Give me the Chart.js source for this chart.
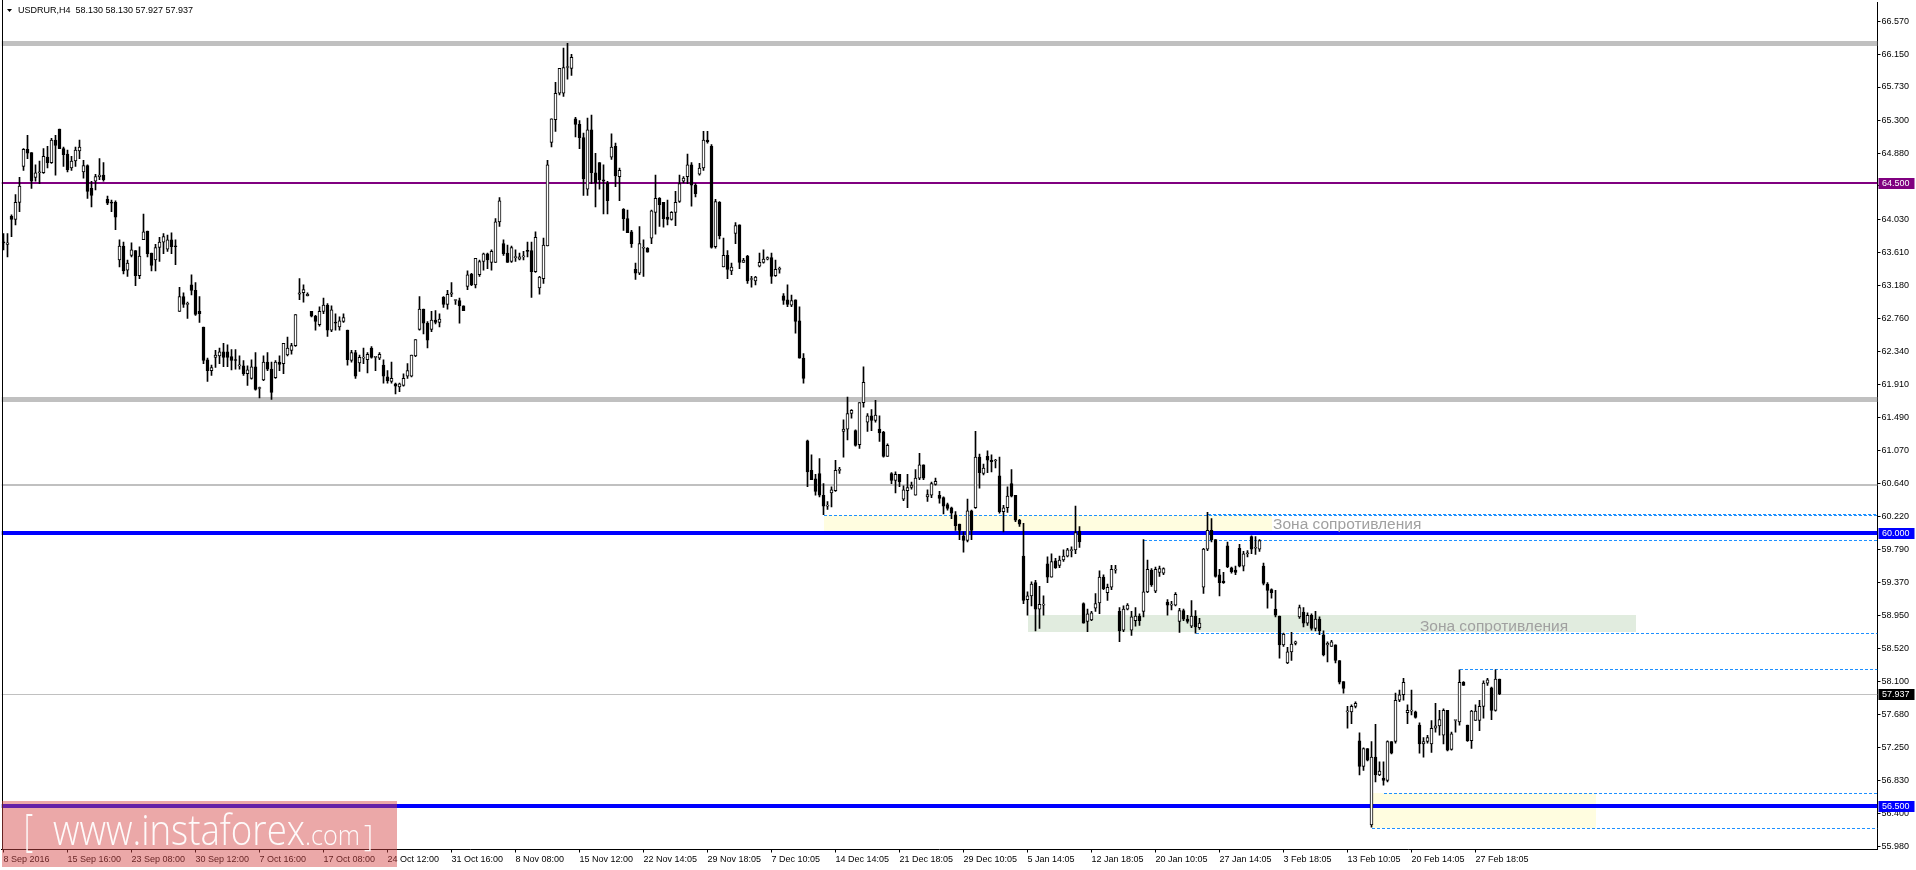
<!DOCTYPE html>
<html><head><meta charset="utf-8">
<script src="https://cdn.jsdelivr.net/npm/chart.js@4.4.1/dist/chart.umd.min.js"></script>
<style>html,body{margin:0;padding:0;background:#fff;overflow:hidden}</style>
</head><body>
<canvas id="c" width="1916" height="870"></canvas>
<script>
// ---------- data ----------
const symbolTitle = 'USDRUR,H4  58.130 58.130 57.927 57.937';
const timeLabels = ['8 Sep 2016','15 Sep 16:00','23 Sep 08:00','30 Sep 12:00','7 Oct 16:00','17 Oct 08:00','24 Oct 12:00','31 Oct 16:00','8 Nov 08:00','15 Nov 12:00','22 Nov 14:05','29 Nov 18:05','7 Dec 10:05','14 Dec 14:05','21 Dec 18:05','29 Dec 10:05','5 Jan 14:05','12 Jan 18:05','20 Jan 10:05','27 Jan 14:05','3 Feb 18:05','13 Feb 10:05','20 Feb 14:05','27 Feb 18:05'];
const barsPerLabel = 16;
const slotCount = 469;
const priceTicks = [66.570,66.150,65.730,65.300,64.880,64.460,64.030,63.610,63.180,62.760,62.340,61.910,61.490,61.070,60.640,60.220,59.790,59.370,58.950,58.520,58.100,57.680,57.250,56.830,56.400,55.980];
const priceMin = 55.944, priceMax = 66.821;

const opens = [63.74,63.71,64.07,64.03,64.25,64.71,64.93,64.89,64.57,64.63,
64.63,64.83,64.76,65.05,65.19,64.94,64.87,64.69,64.78,64.91,
64.64,64.72,64.43,64.52,64.58,64.60,64.29,64.25,64.25,63.51,
63.69,63.38,63.57,63.63,63.31,63.77,63.88,63.60,63.51,63.67,
63.74,63.65,63.77,63.69,62.85,63.04,62.94,63.19,63.12,62.85,
62.65,62.23,62.09,62.26,62.28,62.33,62.33,62.27,62.23,62.15,
62.15,62.05,61.99,62.14,61.86,61.97,62.20,62.11,62.00,62.20,
62.18,62.29,62.35,62.41,63.07,63.09,63.05,62.85,62.79,62.68,
62.85,62.93,62.61,62.71,62.65,62.72,62.61,62.22,62.32,62.19,
62.25,62.23,62.38,62.26,62.25,62.16,62.01,61.95,61.92,61.88,
61.90,62.02,62.02,62.28,62.62,62.88,62.70,62.62,62.74,62.71,
63.03,62.94,63.07,62.99,62.99,62.92,63.17,63.33,63.19,63.32,
63.49,63.59,63.48,63.48,64.00,63.72,63.60,63.49,63.54,63.52,
63.55,63.63,63.63,63.36,63.15,63.27,63.69,65.02,65.31,65.65,
65.65,65.98,65.97,65.32,65.25,65.08,64.42,65.18,64.63,64.76,
64.54,64.50,64.83,64.97,64.58,64.16,64.04,63.87,63.39,63.34,
63.66,63.66,63.79,64.12,64.30,64.25,64.06,64.03,64.12,64.26,
64.52,64.58,64.73,64.47,64.61,64.69,65.05,64.97,63.68,64.25,
63.42,63.57,63.37,63.85,63.96,63.48,63.56,63.26,63.24,63.43,
63.48,63.52,63.54,63.31,63.39,63.05,63.00,62.93,63.00,62.73,
62.25,61.19,60.81,60.70,60.77,60.49,60.35,60.52,60.55,60.81,
61.31,61.34,61.54,61.32,61.14,61.68,61.43,61.51,61.45,61.34,
61.30,60.99,60.77,60.68,60.76,60.44,60.55,60.59,60.49,60.71,
60.88,60.47,60.49,60.63,60.49,60.46,60.37,60.33,60.24,60.12,
59.97,59.91,60.29,60.33,60.98,60.77,60.99,60.94,60.93,60.74,
60.28,60.33,60.64,60.49,60.17,59.71,59.15,59.20,59.37,59.03,
59.08,59.61,59.44,59.65,59.59,59.66,59.71,59.78,59.79,60.03,
59.10,58.87,58.89,59.04,59.11,59.44,59.24,59.31,59.53,59.00,
58.76,59.03,58.76,58.88,58.94,59.00,59.25,59.53,59.26,59.50,
59.49,59.12,59.08,59.08,58.87,59.01,58.90,58.81,58.94,58.79,
59.31,59.80,60.04,59.92,59.47,59.39,59.84,59.56,59.53,59.81,
59.58,59.74,59.96,59.81,59.80,59.58,59.35,59.28,59.03,58.94,
58.57,58.34,58.48,58.59,58.93,58.99,58.85,58.95,58.78,58.90,
58.70,58.57,58.55,58.57,58.37,58.10,57.71,57.71,57.78,57.34,
57.01,57.24,56.26,57.13,56.90,56.86,56.83,57.33,57.33,57.86,
57.93,57.70,57.72,57.71,57.54,57.30,57.33,57.30,57.50,57.53,
57.41,57.73,57.23,57.60,57.58,58.09,57.54,57.34,57.60,57.60,
57.78,58.08,58.02,57.73,58.13];

const highs = [63.85,63.85,64.09,64.35,64.57,64.94,65.11,64.89,64.73,64.78,
64.94,64.97,65.07,65.11,65.19,64.96,64.92,64.84,64.96,65.05,
64.79,64.73,64.52,64.61,64.81,64.76,64.33,64.28,64.27,63.77,
63.74,63.51,63.73,63.63,63.68,64.10,63.88,63.60,63.71,63.80,
63.85,63.83,63.86,63.77,63.16,63.09,62.97,63.32,63.22,63.04,
62.65,62.25,62.16,62.35,62.38,62.44,62.42,62.36,62.36,62.28,
62.22,62.15,62.23,62.32,61.88,62.28,62.32,62.20,62.22,62.28,
62.44,62.52,62.44,62.81,63.27,63.19,63.09,62.85,62.80,62.91,
63.02,62.95,62.92,62.82,62.78,62.82,62.61,62.35,62.35,62.29,
62.38,62.32,62.40,62.27,62.32,62.23,62.09,62.20,61.93,61.93,
62.05,62.18,62.29,62.49,63.04,62.88,62.72,62.85,62.86,62.82,
63.04,63.12,63.22,63.00,63.02,62.92,63.37,63.34,63.53,63.51,
63.60,63.60,63.64,64.04,64.31,63.77,63.70,63.69,63.64,63.60,
63.62,63.74,63.74,63.87,63.30,63.79,64.79,65.32,65.79,65.97,
66.23,66.29,66.15,65.34,65.30,65.14,65.33,65.37,64.88,64.76,
64.73,64.52,65.13,65.01,64.69,64.17,64.15,63.89,63.47,63.94,
63.77,63.67,64.15,64.60,64.31,64.25,64.28,64.13,64.39,64.60,
64.58,64.87,64.76,64.49,64.75,65.16,65.16,64.99,64.29,64.26,
63.79,63.63,63.47,63.99,63.96,63.53,63.57,63.30,63.30,63.60,
63.64,63.55,63.60,63.51,63.42,63.08,63.19,63.06,63.00,62.91,
62.31,61.20,61.01,60.76,60.96,60.64,60.41,60.60,60.94,60.85,
61.46,61.75,61.59,61.33,61.68,62.14,61.54,61.59,61.71,61.51,
61.31,61.15,60.78,60.79,60.76,60.61,60.76,60.66,60.82,61.03,
60.88,60.56,60.66,60.71,60.54,60.47,60.39,60.34,60.28,60.12,
60.02,60.44,60.30,61.31,61.02,60.89,61.06,61.01,60.95,60.98,
60.36,60.60,60.82,60.49,60.18,60.13,59.25,59.38,59.40,59.32,
59.20,59.70,59.74,59.68,59.71,59.79,59.81,59.83,60.35,60.09,
59.11,59.03,59.00,59.23,59.52,59.47,59.35,59.59,59.59,59.05,
59.07,59.10,59.00,59.05,58.97,59.92,59.66,59.55,59.57,59.58,
59.56,59.15,59.13,59.24,59.04,59.03,58.95,59.14,59.01,58.91,
59.81,60.27,60.19,59.92,59.54,59.50,59.89,59.57,59.58,59.86,
59.77,59.78,59.97,59.96,59.92,59.62,59.37,59.29,59.27,58.94,
58.72,58.54,58.73,58.62,59.08,59.05,58.98,58.97,59.00,58.93,
58.75,58.61,58.63,58.57,58.37,58.10,57.78,57.80,57.84,57.44,
57.25,57.24,57.33,57.55,57.07,57.07,57.34,57.33,57.95,57.99,
58.14,57.80,57.99,57.72,57.57,57.38,57.41,57.60,57.82,57.73,
57.75,57.73,57.45,57.60,58.25,58.10,57.54,57.73,57.80,57.86,
58.11,58.14,58.03,58.25,58.13];

const lows = [63.64,63.55,63.81,63.96,64.13,64.66,64.81,64.43,64.52,64.49,
64.62,64.69,64.75,64.60,64.94,64.71,64.64,64.66,64.71,64.81,
64.56,64.30,64.19,64.41,64.54,64.52,64.22,64.13,63.90,63.42,
63.33,63.30,63.55,63.18,63.27,63.77,63.55,63.37,63.37,63.49,
63.59,63.62,63.59,63.45,62.85,62.90,62.76,63.06,62.80,62.71,
62.18,61.95,62.03,62.13,62.18,62.14,62.14,62.10,62.11,62.11,
62.03,61.90,61.98,61.84,61.74,61.96,62.09,61.72,61.99,62.09,
62.05,62.28,62.30,62.40,63.00,62.97,63.05,62.78,62.61,62.66,
62.82,62.53,62.59,62.61,62.61,62.71,62.16,62.20,61.99,62.08,
62.18,62.06,62.25,62.09,62.23,61.93,61.93,61.93,61.79,61.82,
61.89,61.99,62.01,62.27,62.61,62.56,62.38,62.59,62.69,62.65,
62.90,62.88,63.04,62.94,62.70,62.86,63.13,63.18,63.15,63.30,
63.38,63.40,63.38,63.48,63.94,63.57,63.48,63.48,63.49,63.51,
63.51,63.55,63.03,63.35,63.07,63.21,63.69,64.96,65.16,65.63,
65.61,65.83,65.88,65.09,64.94,64.34,64.34,64.49,64.19,64.42,
64.10,64.10,64.80,64.45,64.27,63.89,63.86,63.67,63.26,63.32,
63.30,63.61,63.72,63.84,63.94,63.93,63.96,64.02,63.95,64.25,
64.50,64.49,64.20,64.32,64.60,64.66,65.01,63.66,63.66,63.78,
63.42,63.27,63.32,63.72,63.40,63.48,63.21,63.16,63.19,63.42,
63.47,63.51,63.21,63.30,63.34,62.94,62.91,62.91,62.57,62.25,
61.93,60.60,60.69,60.49,60.47,60.24,60.31,60.34,60.54,60.77,
60.98,61.20,61.48,61.12,61.09,61.62,61.31,61.32,61.43,61.18,
60.98,60.99,60.64,60.52,60.60,60.42,60.33,60.57,60.49,60.69,
60.69,60.41,60.46,60.62,60.39,60.25,60.30,60.19,60.04,59.92,
59.76,59.89,59.92,60.32,60.58,60.75,60.78,60.79,60.84,60.26,
60.02,60.27,60.47,60.15,60.09,59.10,58.95,59.07,58.75,58.78,
58.95,59.37,59.44,59.55,59.56,59.64,59.70,59.70,59.74,59.82,
58.85,58.74,58.88,59.00,58.97,59.28,59.14,59.28,59.49,58.61,
58.74,59.02,58.69,58.81,58.82,58.93,59.24,59.32,59.24,59.45,
59.47,58.95,59.02,59.07,58.73,58.88,58.85,58.79,58.72,58.77,
59.23,59.78,59.89,59.44,59.20,59.36,59.56,59.49,59.47,59.57,
59.52,59.70,59.74,59.73,59.77,59.34,59.04,59.17,58.93,58.40,
58.55,58.33,58.37,58.57,58.91,58.80,58.82,58.76,58.75,58.70,
58.43,58.35,58.55,58.34,58.07,57.95,57.50,57.56,57.76,56.90,
56.96,57.08,56.23,56.81,56.89,56.77,56.81,57.17,57.31,57.84,
57.86,57.56,57.67,57.63,57.18,57.13,57.31,57.19,57.45,57.41,
57.30,57.21,57.22,57.45,57.54,58.05,57.33,57.24,57.60,57.47,
57.63,58.05,57.61,57.72,57.93];

const closes = [63.73,63.73,64.03,64.25,64.46,64.93,64.88,64.52,64.63,64.64,
64.84,64.76,65.05,64.98,64.94,64.86,64.67,64.78,64.92,64.96,
64.72,64.39,64.34,64.58,64.60,64.54,64.24,64.24,64.06,63.69,
63.37,63.47,63.64,63.31,63.56,63.87,63.59,63.44,63.67,63.74,
63.81,63.77,63.68,63.68,63.04,62.94,62.94,63.12,62.81,62.82,
62.22,62.09,62.13,62.29,62.33,62.26,62.26,62.22,62.22,62.15,
62.05,62.10,62.14,61.85,61.86,62.20,62.11,61.81,62.20,62.17,
62.44,62.38,62.41,62.81,63.09,63.13,63.07,62.79,62.72,62.85,
62.93,62.61,62.87,62.70,62.73,62.77,62.23,62.32,62.02,62.26,
62.25,62.30,62.26,62.26,62.30,62.02,61.96,61.99,61.89,61.92,
61.99,62.09,62.29,62.49,62.88,62.70,62.48,62.74,62.71,62.75,
62.94,63.07,63.09,62.99,62.92,62.86,63.32,63.19,63.53,63.49,
63.59,63.51,63.62,64.00,64.27,63.59,63.48,63.67,63.54,63.55,
63.55,63.62,63.36,63.80,63.29,63.70,64.73,65.32,65.65,65.97,
65.98,65.98,66.11,65.25,65.08,64.55,65.18,64.63,64.50,64.54,
64.52,64.27,64.96,64.59,64.66,64.04,63.86,63.72,63.34,63.72,
63.66,63.61,64.14,64.30,64.22,64.04,64.03,64.12,64.25,64.49,
64.56,64.73,64.47,64.36,64.69,65.05,65.03,63.67,64.26,63.82,
63.57,63.39,63.42,63.95,63.48,63.51,63.24,63.26,63.29,63.48,
63.52,63.54,63.30,63.39,63.39,62.99,62.94,62.99,62.72,62.25,
61.99,60.79,60.69,60.54,60.49,60.35,60.35,60.56,60.81,60.81,
61.34,61.54,61.58,61.13,61.68,61.94,61.51,61.45,61.52,61.29,
60.99,61.13,60.68,60.76,60.66,60.56,60.59,60.62,60.71,60.88,
60.71,60.50,60.64,60.67,60.45,60.35,60.32,60.26,60.10,60.04,
59.91,60.29,60.04,60.98,60.78,60.84,60.94,60.92,60.93,60.28,
60.33,60.48,60.48,60.17,60.12,59.14,59.20,59.35,59.03,59.09,
59.08,59.44,59.64,59.56,59.66,59.71,59.79,59.78,60.01,59.89,
58.85,58.97,58.98,59.10,59.44,59.29,59.31,59.54,59.53,58.75,
59.03,59.08,58.93,58.94,58.88,59.25,59.54,59.34,59.54,59.55,
59.55,59.08,59.08,59.22,59.01,58.90,58.87,58.94,58.80,58.85,
59.80,60.04,59.92,59.45,59.37,59.37,59.57,59.51,59.50,59.58,
59.74,59.74,59.80,59.81,59.91,59.36,59.27,59.24,58.95,58.57,
58.71,58.48,58.58,58.61,59.05,58.85,58.95,58.78,58.90,58.75,
58.44,58.59,58.61,58.37,58.09,58.01,57.71,57.78,57.82,57.01,
57.24,57.09,57.13,56.90,56.95,56.83,57.33,57.18,57.86,57.93,
58.09,57.73,57.72,57.64,57.30,57.33,57.38,57.50,57.53,57.61,
57.73,57.22,57.43,57.60,58.09,58.05,57.34,57.72,57.72,57.78,
58.08,58.12,57.73,58.13,57.94];

// horizontal levels (prices)
const greyLevelsThick = [66.292, 61.716];
const greyLevelThin = 60.621;
const purpleLevel = 64.500;
const blueLevels = [60.000, 56.500];
const bidPrice = 57.937;
// dashed lines: price and first bar
const dashedPrices = [60.236, 60.250, 59.918, 58.717, 58.255, 56.670, 56.214];
const dashedFromBar = [205, 301, 285, 298, 364, 345, 342];
// zones: top price, bottom price, first bar, last bar
const zoneTop = [60.236, 58.950, 56.670];
const zoneBottom = [59.995, 58.735, 56.214];
const zoneFrom = [205, 256, 342];
const zoneTo = [317, 408, 398];
const zoneText = 'Зона сопротивления';
const zoneTextBar = [317.4, 354.1];
const zoneTextPrice = [60.115, 58.805];
// axis marker boxes
const markerPrices = [64.500, 60.000, 57.937, 56.500];

// ---------- chart ----------
const categories = Array.from({length: slotCount}, (_, i) =>
  (i % barsPerLabel === 0 && timeLabels[i / barsPerLabel]) ? timeLabels[i / barsPerLabel] : '');
const FONT = '"Liberation Sans", Arial, sans-serif';

const overlay = {
  id: 'overlay',
  beforeDatasetsDraw(chart) {
    const {ctx, chartArea: a, scales: {x, y}} = chart;
    ctx.save();
    ctx.beginPath(); ctx.rect(a.left, a.top, a.right - a.left, a.bottom - a.top); ctx.clip();
    const zoneColors = ['#FFFDE0', '#E1ECDF', '#FFFDE0'];
    zoneTop.forEach((t, k) => {
      const x0 = x.getPixelForValue(zoneFrom[k]), x1 = x.getPixelForValue(zoneTo[k]);
      const y0 = Math.round(y.getPixelForValue(t)), y1 = Math.round(y.getPixelForValue(zoneBottom[k]));
      ctx.fillStyle = zoneColors[k];
      ctx.fillRect(Math.round(x0), y0, Math.round(x1 - x0), y1 - y0);
    });
    const hline = (p, w, c) => {
      const py = y.getPixelForValue(p);
      ctx.fillStyle = c;
      ctx.fillRect(a.left, Math.round(py - w / 2), a.right - a.left, w);
    };
    greyLevelsThick.forEach(p => hline(p, 5, '#C0C0C0'));
    hline(greyLevelThin, 2, '#C0C0C0');
    hline(purpleLevel, 2, '#800080');
    hline(bidPrice, 1, '#C0C0C0');
    ctx.strokeStyle = '#1E90FF'; ctx.lineWidth = 1; ctx.setLineDash([3, 2]);
    dashedPrices.forEach((p, k) => {
      const py = Math.round(y.getPixelForValue(p)) + 0.5;
      const px = Math.round(x.getPixelForValue(dashedFromBar[k]));
      ctx.beginPath(); ctx.moveTo(px, py); ctx.lineTo(a.right, py); ctx.stroke();
    });
    ctx.setLineDash([]);
    blueLevels.forEach(p => hline(p, 4, '#0000FF'));
    ctx.fillStyle = '#A0A0A0';
    ctx.font = '15.5px ' + FONT;
    ctx.textBaseline = 'middle'; ctx.textAlign = 'left';
    zoneTextBar.forEach((b, k) => ctx.fillText(zoneText, x.getPixelForValue(b), y.getPixelForValue(zoneTextPrice[k])));
    ctx.restore();
  },
  afterDraw(chart) {
    const {ctx, chartArea: a, scales: {y}} = chart;
    ctx.save();
    ctx.fillStyle = '#000';
    ctx.fillRect(2, 0, 1, a.bottom);
    const boxColors = ['#800080', '#0000FF', '#000000', '#0000FF'];
    ctx.font = '9px ' + FONT;
    ctx.textBaseline = 'middle'; ctx.textAlign = 'left';
    markerPrices.forEach((p, k) => {
      const py = Math.round(y.getPixelForValue(p));
      ctx.fillStyle = boxColors[k];
      ctx.fillRect(a.right + 1, py - 5, 36, 11);
      ctx.fillStyle = '#FFFFFF';
      ctx.fillText(p.toFixed(3), a.right + 4.5, py + 0.5);
    });
    ctx.fillStyle = '#000';
    ctx.beginPath(); ctx.moveTo(7, 9); ctx.lineTo(12, 9); ctx.lineTo(9.5, 12); ctx.closePath(); ctx.fill();
    ctx.font = '9px ' + FONT;
    ctx.fillText(symbolTitle, 18, 10.5);
    ctx.fillStyle = 'rgba(212,70,70,0.47)';
    ctx.fillRect(2, 801, 395, 66);
    ctx.fillStyle = 'rgba(255,255,255,0.95)';
    ctx.textBaseline = 'alphabetic';
    const fit = (txt, x0, base, w, font) => {
      ctx.font = font;
      const m = ctx.measureText(txt).width;
      ctx.save(); ctx.translate(x0, base); ctx.scale(w / m, 1); ctx.fillText(txt, 0, 0); ctx.restore();
    };
    fit('www.instaforex', 53, 845, 252, '300 42px "Open Sans", ' + FONT);
    fit('.com', 305, 845, 55, '300 28px "Open Sans", ' + FONT);
    fit('[', 24, 846, 9, '200 44px "Open Sans", ' + FONT);
    fit(']', 364, 846, 9, '200 30px "Open Sans", ' + FONT);
    ctx.restore();
  }
};

new Chart(document.getElementById('c'), {
  type: 'bar',
  data: {
    labels: categories,
    datasets: [
      {
        label: 'bodies',
        data: opens.map((o, i) => [Math.min(o, closes[i]), Math.max(o, closes[i])]),
        backgroundColor: opens.map((o, i) => closes[i] >= o ? '#FFFFFF' : '#000000'),
        borderColor: '#000000', borderWidth: 1, borderSkipped: false,
        barThickness: 3, minBarLength: 1, grouped: false, order: 0
      },
      {
        label: 'wicks',
        data: lows.map((l, i) => [l, highs[i]]),
        backgroundColor: '#000000', borderWidth: 0,
        barThickness: 1, minBarLength: 1, grouped: false, order: 1
      }
    ]
  },
  options: {
    responsive: false, animation: false, devicePixelRatio: 1,
    layout: {padding: {left: 1.5, top: 2, right: 0, bottom: 0}},
    plugins: {legend: {display: false}, tooltip: {enabled: false}},
    events: [],
    scales: {
      x: {
        type: 'category', offset: true,
        afterBuildTicks: s => { s.ticks = s.ticks.filter(t => t.value % barsPerLabel === 0 && categories[t.value] !== ''); },
        afterFit: s => { s.height = 20.5; s.paddingLeft = 0; s.paddingRight = 0; },
        grid: {display: true, drawOnChartArea: false, drawTicks: true, tickLength: 3, offset: false, color: '#000000', lineWidth: 1},
        border: {display: true, color: '#000000', width: 1},
        ticks: {autoSkip: false, maxRotation: 0, minRotation: 0, align: 'start', padding: 1.5, color: '#000000', font: {family: FONT, size: 9}}
      },
      y: {
        type: 'linear', position: 'right', min: priceMin, max: priceMax,
        afterBuildTicks: s => { s.ticks = priceTicks.map(v => ({value: v})); },
        afterFit: s => { s.width = 38.5; s.paddingTop = 0; s.paddingBottom = 0; },
        grid: {display: true, drawOnChartArea: false, drawTicks: true, tickLength: 3, color: '#000000', lineWidth: 1},
        border: {display: true, color: '#000000', width: 1},
        ticks: {padding: 1, color: '#000000', font: {family: FONT, size: 9}, callback: v => Number(v).toFixed(3)}
      }
    }
  },
  plugins: [overlay]
});
</script>
</body></html>
